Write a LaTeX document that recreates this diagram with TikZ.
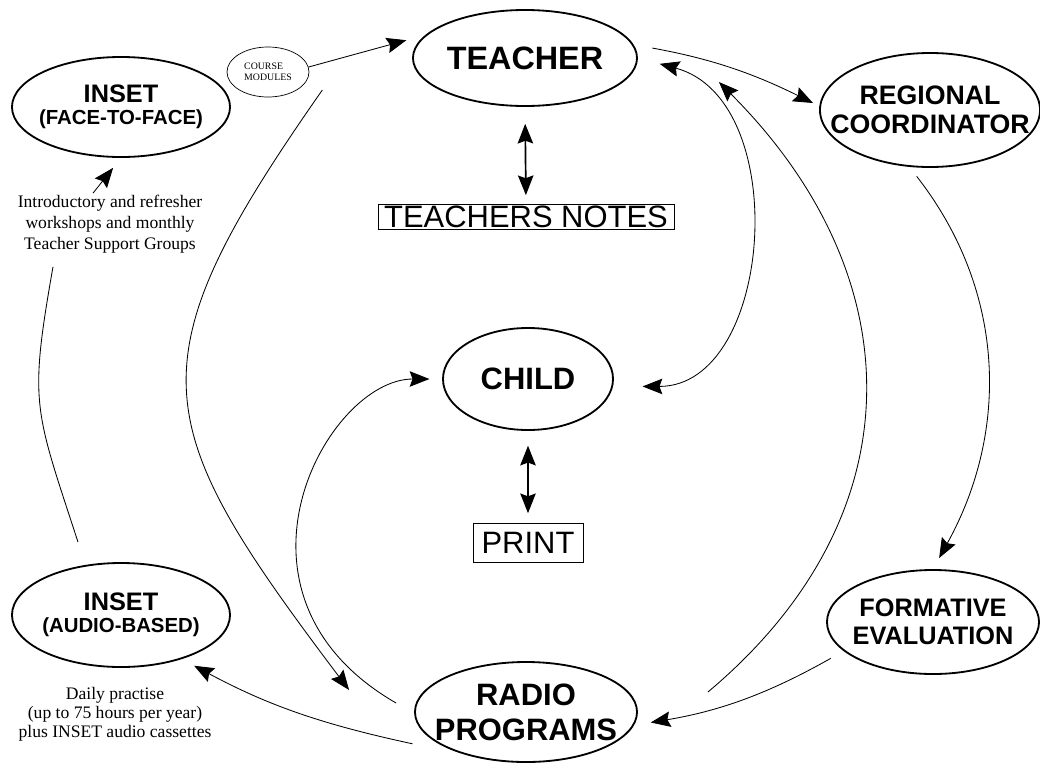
\documentclass[tikz,border=0pt]{standalone}
\usepackage{fontspec}
\setmainfont{Liberation Serif}
\setsansfont{Liberation Sans}
\usetikzlibrary{shapes.geometric}
\usetikzlibrary{arrows.meta}
\tikzset{>={Stealth[length=14pt,width=11pt,inset=2pt]}}
\tikzstyle{bubble}=[ellipse,draw,line width=1.3pt,inner xsep=-20pt,inner ysep=0pt,align=center]
\tikzstyle{notebox}=[rectangle,draw,line width=0.5pt,inner sep=1pt]
\tikzstyle{remark}=[align=center,inner sep=1pt]
\tikzstyle{link}=[->,line width=0.6pt]

\begin{document}
\begin{tikzpicture}[x=0.025cm,y=-0.025cm]
  \useasboundingbox (0,0) rectangle (1040,764);

  % middle column
  \node[bubble,minimum width=5.6cm,minimum height=2.4cm,
    font=\sffamily\bfseries\fontsize{23}{26}\selectfont] (teacher) at (525,58) {TEACHER};
  \node[notebox,minimum width=7.4cm,
    font=\sffamily\fontsize{22}{24}\selectfont] (notes) at (526,217) {TEACHERS NOTES};
  \node[bubble,minimum width=4.25cm,minimum height=2.55cm,
    font=\sffamily\bfseries\fontsize{22}{25}\selectfont] (child) at (528,379) {CHILD};
  \node[notebox,minimum width=2.75cm,minimum height=0.98cm,
    font=\sffamily\fontsize{22}{24}\selectfont] (print) at (528,543) {PRINT};
  \node[bubble,minimum width=5.55cm,minimum height=2.5cm,
    font=\sffamily\bfseries\fontsize{22}{25}\selectfont] (radio) at (526,712) {RADIO\\PROGRAMS};

  % right side
  \node[bubble,minimum width=5.5cm,minimum height=2.85cm,
    font=\sffamily\bfseries\fontsize{19}{21}\selectfont] (regional) at (930,110) {REGIONAL\\COORDINATOR};
  \node[bubble,minimum width=5.3cm,minimum height=2.6cm,
    font=\sffamily\bfseries\fontsize{18}{20}\selectfont] (formative) at (933,622) {FORMATIVE\\EVALUATION};

  % left side
  \node[bubble,minimum width=5.45cm,minimum height=2.5cm,
    font=\sffamily\bfseries\fontsize{18}{16}\selectfont] (face) at (121,107)
    {INSET\\{\fontsize{14.5}{16}\selectfont(FACE-TO-FACE)}};
  \node[bubble,minimum width=5.45cm,minimum height=2.6cm,
    font=\sffamily\bfseries\fontsize{18}{16}\selectfont] (audio) at (121,615)
    {INSET\\{\fontsize{14.5}{16}\selectfont(AUDIO-BASED)}};
  \node[ellipse,draw,line width=0.5pt,minimum width=2.05cm,minimum height=1.25cm,
    inner sep=0pt,align=left,font=\fontsize{7}{8}\selectfont] (modules) at (268,72) {COURSE\\MODULES};
  \node[remark,font=\fontsize{12.5}{15}\selectfont] (facetext) at (110,224)
    {Introductory and refresher\\workshops and monthly\\Teacher Support Groups};
  \node[remark,font=\fontsize{12.5}{13.5}\selectfont] (audiotext) at (115,714)
    {Daily practise\\(up to 75 hours per year)\\plus INSET audio cassettes};

  % links
  \draw[link,shorten >=14pt] (modules.7) -- (teacher.167);
  \draw[<->,line width=1.2pt,shorten <=12pt,shorten >=6.5pt] (teacher.south) -- (notes.north);
  \draw[<->,line width=1.2pt,shorten <=10.5pt,shorten >=7pt] (child.south) -- (print.north);
  \draw[link,shorten <=13.5pt,shorten >=5pt] (teacher.7) to[bend left=8] (regional.178);
  \draw[link,shorten <=8.5pt,shorten >=9pt] (regional.250) to[out=-52,in=61] (formative.north);
  \draw[link,shorten <=10.5pt,shorten >=12pt] (formative.198) to[bend left=10] (radio.353);
  \draw[link] ([shift={(70,-20)}]radio.east)
    to[out=40,in=-45,looseness=1.15] ([shift={(81,24)}]teacher.east);
  \draw[<->,line width=0.6pt,shorten <=16pt,shorten >=21pt] (teacher.east)
    to[out=-15,in=0,looseness=1.25] (child.355);
  \draw[link,shorten >=9pt] ([shift={(-18,-9)}]radio.west)
    to[out=150,in=180,out looseness=1.7,in looseness=0.9] (child.west);
  \draw[link] ([shift={(13,18)}]modules.east)
    to[out=235,in=127,looseness=1.43] ([shift={(-65,-22)}]radio.west);
  \draw[link,shorten >=10pt] ([shift={(-26,0)}]radio.200) to[bend left=8] (audio.324);
  \draw[line width=0.6pt] ([shift={(-43,-20)}]audio.north)
    to[out=108,in=-100,looseness=1.3] ([shift={(-57,12)}]facetext.south);
  \draw[link,shorten >=9pt] ([shift={(-17,0)}]facetext.north) -- (face.south);

\end{tikzpicture}
\end{document}
